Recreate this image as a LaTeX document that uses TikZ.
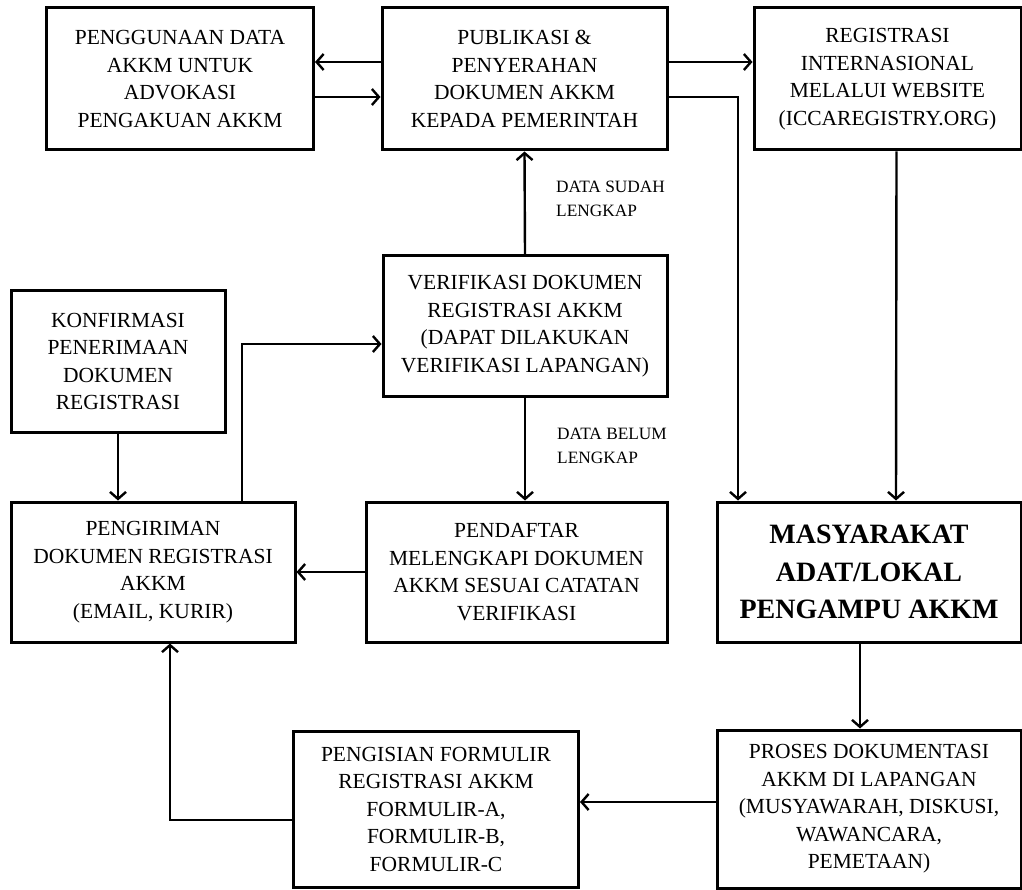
\documentclass[tikz,border=0pt]{standalone}
\usepackage{fontspec}
\setmainfont{Liberation Serif}
\usepackage{tikz}
\usetikzlibrary{arrows.meta}

\tikzset{
    box/.style={draw, line width=3pt, align=center, inner sep=0pt,
        font=\fontsize{21.5}{27.5}\selectfont},
    arr/.style={line width=2.4pt, -{Straight Barb[length=7pt,width=16pt]}},
    note/.style={align=left, anchor=north west, inner sep=0pt,
        font=\fontsize{17.3}{24}\selectfont}
}

\begin{document}
\begin{tikzpicture}[x=1pt,y=-1pt]
\useasboundingbox (0,0) rectangle (1022,890);

\node[box, minimum width=267pt, minimum height=142pt] (guna) at (180,79)
    {PENGGUNAAN DATA\\AKKM UNTUK\\ADVOKASI\\PENGAKUAN AKKM};
\node[box, minimum width=285pt, minimum height=142pt] (pub) at (524.5,79)
    {PUBLIKASI \&\\PENYERAHAN\\DOKUMEN AKKM\\KEPADA PEMERINTAH};
\node[box, minimum width=267pt, minimum height=142pt] (reg) at (887.5,79)
    {REGISTRASI\\INTERNASIONAL\\MELALUI WEBSITE\\(ICCAREGISTRY.ORG)};
\node[box, minimum width=284pt, minimum height=140pt] (ver) at (525,326)
    {VERIFIKASI DOKUMEN\\REGISTRASI AKKM\\(DAPAT DILAKUKAN\\VERIFIKASI LAPANGAN)};
\node[box, minimum width=214pt, minimum height=141pt] (konf) at (118,361.5)
    {KONFIRMASI\\PENERIMAAN\\DOKUMEN\\REGISTRASI};
\node[box, minimum width=284pt, minimum height=140pt] (kirim) at (153,572)
    {PENGIRIMAN\\DOKUMEN REGISTRASI\\AKKM\\(EMAIL, KURIR)};
\node[box, minimum width=301pt, minimum height=140pt] (daftar) at (516.5,572)
    {PENDAFTAR\\MELENGKAPI DOKUMEN\\AKKM SESUAI CATATAN\\VERIFIKASI};
\node[box, minimum width=304pt, minimum height=140pt,
    font=\bfseries\fontsize{28}{37.5}\selectfont] (mas) at (869,572)
    {MASYARAKAT\\ADAT/LOKAL\\PENGAMPU AKKM};
\node[box, minimum width=304pt, minimum height=158pt] (proses) at (869,809)
    {PROSES DOKUMENTASI\\AKKM DI LAPANGAN\\(MUSYAWARAH, DISKUSI,\\WAWANCARA,\\PEMETAAN)};
\node[box, minimum width=285pt, minimum height=156pt] (isi) at (436,809)
    {PENGISIAN FORMULIR\\REGISTRASI AKKM\\FORMULIR-A,\\FORMULIR-B,\\FORMULIR-C};

\node[note] (sudah) at (556,181) {DATA SUDAH\\LENGKAP};
\node[note] (belum) at (557,428) {DATA BELUM\\LENGKAP};

% connectors
\draw[arr] ([yshift=17pt]pub.west) -- ([yshift=17pt]guna.east);
\draw[arr] ([yshift=-18pt]guna.east) -- ([yshift=-18pt]pub.west);
\draw[arr] ([yshift=17pt]pub.east) -- ([yshift=17pt]reg.west);
\draw[arr] ([yshift=-18pt]pub.east) -| ([xshift=-131pt]mas.north);
\draw[arr] ([xshift=9pt]reg.south) -- ([xshift=27pt]mas.north);
\draw[arr] (ver.north) -- (pub.south);
\draw[arr] (ver.south) -- ([xshift=8.5pt]daftar.north);
\draw[arr] (konf.south) -- ([xshift=-35pt]kirim.north);
\draw[arr] ([xshift=89pt]kirim.north) |- ([yshift=-18pt]ver.west);
\draw[arr] (daftar.west) -- (kirim.east);
\draw[arr] ([xshift=-9pt]mas.south) -- ([xshift=-9pt]proses.north);
\draw[arr] ([yshift=7pt]proses.west) -- ([yshift=7pt]isi.east);
\draw[arr] ([yshift=-11pt]isi.west) -| ([xshift=17pt]kirim.south);
\end{tikzpicture}
\end{document}
